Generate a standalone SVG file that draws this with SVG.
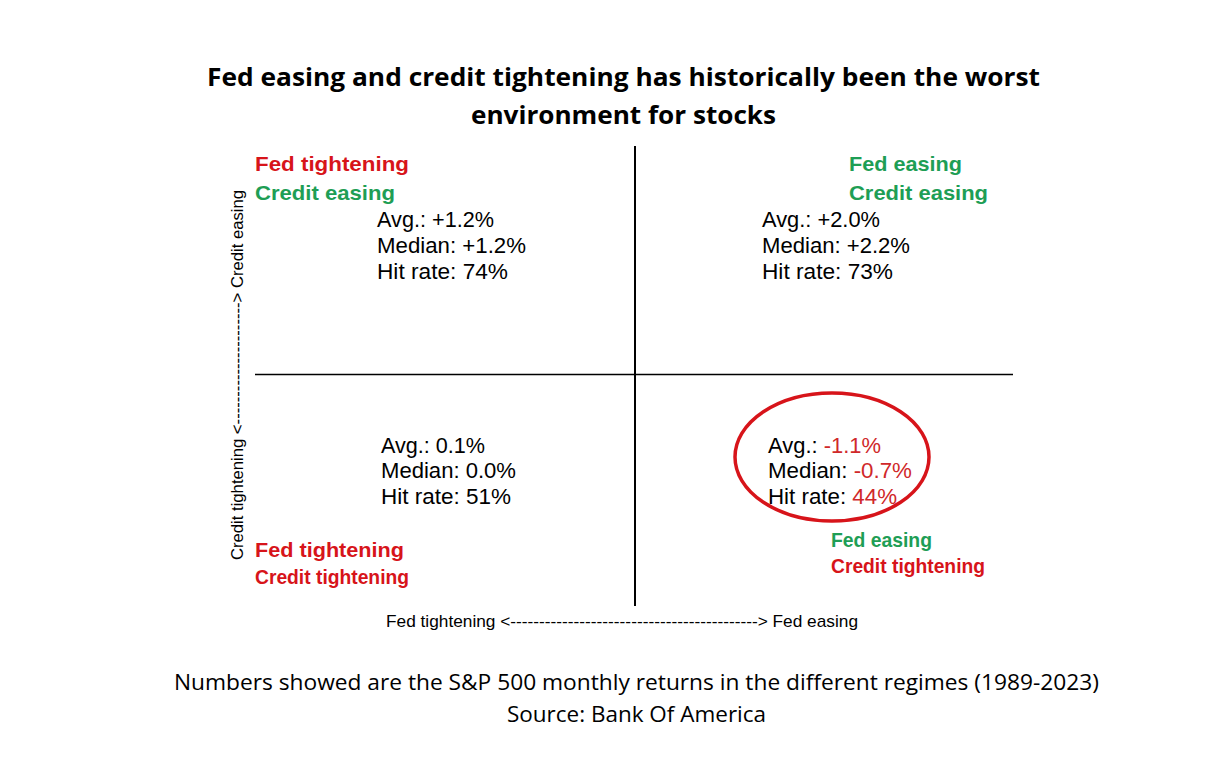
<svg xmlns="http://www.w3.org/2000/svg" width="1221" height="763" viewBox="0 0 1221 763">
<style>
.title{font-family:"Open Sans","Noto Sans","Liberation Sans",sans-serif;font-weight:bold;font-size:25px;fill:#000}
.foot{font-family:"Open Sans","Noto Sans","Liberation Sans",sans-serif;font-size:22px;fill:#000}
.lab{font-family:"Liberation Sans",Arial,sans-serif;font-weight:bold;font-size:21px}
.red{fill:#d7141a}
.green{fill:#1e9e55}
.stat{font-family:"Liberation Sans",Arial,sans-serif;font-size:22px;fill:#000}
.neg{fill:#d0282a}
.axis{font-family:"Liberation Sans",Arial,sans-serif;font-size:17px;fill:#000}
</style>
<rect width="1221" height="763" fill="#fff"/>
<g id="title">
<text class="title" x="207" y="86" textLength="833" lengthAdjust="spacingAndGlyphs">Fed easing and credit tightening has historically been the worst</text>
<text class="title" x="471" y="124" textLength="305" lengthAdjust="spacingAndGlyphs">environment for stocks</text>
</g>
<g id="connectors">
<line x1="635" y1="146" x2="635" y2="606" stroke="#000" stroke-width="2"/>
<line x1="255" y1="374.5" x2="1013" y2="374.5" stroke="#000" stroke-width="1.5"/>
</g>
<g id="q-top-left">
<text class="lab red" x="255" y="171" textLength="154" lengthAdjust="spacingAndGlyphs">Fed tightening</text>
<text class="lab green" x="255" y="200" textLength="140" lengthAdjust="spacingAndGlyphs">Credit easing</text>
<text class="stat" x="377" y="227" textLength="117" lengthAdjust="spacingAndGlyphs">Avg.: +1.2%</text>
<text class="stat" x="377" y="253" textLength="149" lengthAdjust="spacingAndGlyphs">Median: +1.2%</text>
<text class="stat" x="377" y="279" textLength="131" lengthAdjust="spacingAndGlyphs">Hit rate: 74%</text>
</g>
<g id="q-top-right">
<text class="lab green" x="849" y="171" textLength="113" lengthAdjust="spacingAndGlyphs">Fed easing</text>
<text class="lab green" x="849" y="200" textLength="139" lengthAdjust="spacingAndGlyphs">Credit easing</text>
<text class="stat" x="762" y="227" textLength="118" lengthAdjust="spacingAndGlyphs">Avg.: +2.0%</text>
<text class="stat" x="762" y="253" textLength="148" lengthAdjust="spacingAndGlyphs">Median: +2.2%</text>
<text class="stat" x="762" y="279" textLength="131" lengthAdjust="spacingAndGlyphs">Hit rate: 73%</text>
</g>
<g id="q-bottom-left">
<text class="stat" x="381" y="453" textLength="104" lengthAdjust="spacingAndGlyphs">Avg.: 0.1%</text>
<text class="stat" x="381" y="478" textLength="135" lengthAdjust="spacingAndGlyphs">Median: 0.0%</text>
<text class="stat" x="381" y="504" textLength="130" lengthAdjust="spacingAndGlyphs">Hit rate: 51%</text>
<text class="lab red" x="255" y="557" font-size="20" textLength="149" lengthAdjust="spacingAndGlyphs">Fed tightening</text>
<text class="lab red" x="255" y="584" font-size="20" textLength="154" lengthAdjust="spacingAndGlyphs">Credit tightening</text>
</g>
<g id="q-bottom-right">
<ellipse cx="832" cy="457" rx="97" ry="64" fill="none" stroke="#d7141a" stroke-width="3.5"/>
<text class="stat" x="768" y="453" textLength="113" lengthAdjust="spacingAndGlyphs">Avg.: <tspan class="neg">-1.1%</tspan></text>
<text class="stat" x="768" y="478" textLength="144" lengthAdjust="spacingAndGlyphs">Median: <tspan class="neg">-0.7%</tspan></text>
<text class="stat" x="768" y="504" textLength="129" lengthAdjust="spacingAndGlyphs">Hit rate: <tspan class="neg">44%</tspan></text>
<text class="lab green" x="831" y="547" font-size="20" textLength="101" lengthAdjust="spacingAndGlyphs">Fed easing</text>
<text class="lab red" x="831" y="573" font-size="20" textLength="154" lengthAdjust="spacingAndGlyphs">Credit tightening</text>
</g>
<g id="axes-labels">
<text class="axis" x="386" y="627" textLength="472" lengthAdjust="spacingAndGlyphs">Fed tightening &lt;-------------------------------------------&gt;  Fed easing</text>
<text class="axis" transform="translate(243,560) rotate(-90)" x="0" y="0" textLength="370" lengthAdjust="spacingAndGlyphs">Credit tightening &lt;----------------------&gt; Credit easing</text>
</g>
<g id="footer">
<text class="foot" x="174" y="690" textLength="925" lengthAdjust="spacingAndGlyphs">Numbers showed are the S&amp;P 500 monthly returns in the different regimes (1989-2023)</text>
<text class="foot" x="507" y="722" textLength="259" lengthAdjust="spacingAndGlyphs">Source: Bank Of America</text>
</g>
</svg>
